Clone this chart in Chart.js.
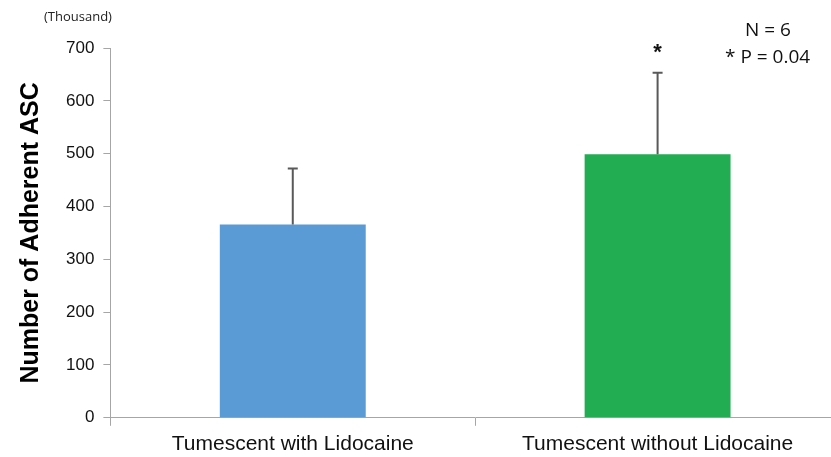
<!DOCTYPE html>
<html>
<head>
<meta charset="utf-8">
<script src="https://cdn.jsdelivr.net/npm/chart.js@4"></script>
<style>
  html, body { margin: 0; padding: 0; background: #fff; overflow: hidden; }
  #wrap { width: 840px; height: 457px; position: relative; }
</style>
</head>
<body>
<div id="wrap"><canvas id="my-chart"></canvas></div>
<script>
'use strict';

// ******** DATA **************
let groupNames = ['Tumescent with Lidocaine', 'Tumescent without Lidocaine'];
let adherentCells = [366, 499];
let errorUp = [106, 154];
let barColors = ['#5b9bd5', '#22ad52'];
let yTicks = [0, 100, 200, 300, 400, 500, 600, 700];

// ******** PLUGIN: error bars + text notes **************
let extrasPlugin = {
  id: 'extras',
  afterDatasetsDraw(chart) {
    let ctx = chart.ctx;
    let meta = chart.getDatasetMeta(0);
    let yScale = chart.scales.y;
    ctx.save();
    ctx.strokeStyle = '#595959';
    ctx.lineWidth = 2;
    for (let i = 0; i < adherentCells.length; i++) {
      let x = meta.data[i].x;
      let yTop = yScale.getPixelForValue(adherentCells[i] + errorUp[i]);
      let yBar = yScale.getPixelForValue(adherentCells[i]);
      ctx.beginPath();
      ctx.moveTo(x, yBar);
      ctx.lineTo(x, yTop);
      ctx.moveTo(x - 5, yTop);
      ctx.lineTo(x + 5, yTop);
      ctx.stroke();
    }

    // asterisk above second bar
    let x2 = meta.data[1].x;
    let yStar = yScale.getPixelForValue(adherentCells[1] + errorUp[1]);
    ctx.fillStyle = '#111';
    ctx.font = 'bold 22px "Liberation Sans", Arial, sans-serif';
    ctx.textAlign = 'center';
    ctx.textBaseline = 'middle';
    ctx.fillText('*', x2, yStar - 20);

    // notes top right
    ctx.font = '19px "Open Sans", "Liberation Sans", sans-serif';
    ctx.textAlign = 'left';
    ctx.fillText('N = 6', 745, 31);
    ctx.fillText('* P = 0.04', 725, 58);

    // unit label
    ctx.font = '13px "Open Sans", "Liberation Sans", sans-serif';
    ctx.fillStyle = '#222';
    ctx.fillText('(Thousand)', 44, 17);
    ctx.restore();
  }
};

// ******** CHART **************
let canvasElem = document.getElementById('my-chart');

let myObj = {
  type: 'bar',
  data: {
    labels: groupNames,
    datasets: [{
      data: adherentCells,
      backgroundColor: barColors,
      borderWidth: 0,
      categoryPercentage: 1,
      barPercentage: 0.4
    }]
  },
  options: {
    responsive: true,
    maintainAspectRatio: false,
    animation: false,
    layout: { padding: { top: 48, right: 0, left: 16, bottom: -6 } },
    plugins: {
      legend: { display: false },
      tooltip: { enabled: false }
    },
    scales: {
      x: {
        grid: {
          offset: true,
          drawOnChartArea: false,
          drawTicks: true,
          tickLength: 8,
          color: '#a6a6a6'
        },
        border: { color: '#a6a6a6', width: 1 },
        ticks: {
          color: '#111',
          font: { family: '"Liberation Sans", Arial, sans-serif', size: 21 },
          padding: 6
        }
      },
      y: {
        min: 0,
        max: 700,
        afterBuildTicks(axis) {
          axis.ticks = yTicks.map(v => ({ value: v }));
        },
        grid: {
          drawOnChartArea: false,
          drawTicks: true,
          tickLength: 7,
          color: '#a6a6a6'
        },
        border: { color: '#a6a6a6', width: 1 },
        ticks: {
          color: '#111',
          font: { family: '"Liberation Sans", Arial, sans-serif', size: 17 },
          padding: 9
        },
        title: {
          display: true,
          text: 'Number of Adherent ASC',
          color: '#000',
          font: { family: '"Liberation Sans", Arial, sans-serif', size: 25, weight: 'bold' },
          padding: { top: 0, bottom: 11 }
        }
      }
    }
  },
  plugins: [extrasPlugin]
};

new Chart(canvasElem, myObj);
</script>
</body>
</html>
